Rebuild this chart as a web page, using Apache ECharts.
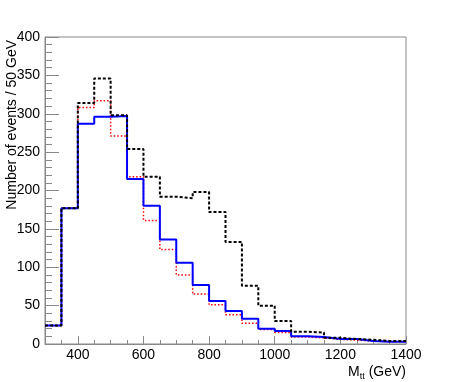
<!DOCTYPE html>
<html>
<head>
<meta charset="utf-8">
<script src="https://cdn.jsdelivr.net/npm/echarts@6/dist/echarts.min.js"></script>
<style>
html,body{margin:0;padding:0;background:#fff;}
#chart{width:452px;height:382px;}
</style>
</head>
<body>
<div id="chart"></div>
<script>
// Bin lower edges (GeV), 50 GeV bins
var binLow = [300,350,400,450,500,550,600,650,700,750,800,850,900,950,1000,1050,1100,1150,1200,1250,1300,1350];
var binHigh = 1400;
// Black dashed histogram
var blackDashed = [24,177,314,346,298,254,218,192,190,198,172,133,76,50,30,16,15,8,6.5,5.5,4,4];
// Red dotted histogram
var redDotted = [24,177,308,317,271,218,161,123,90,65,51,38,27,19,15,9,8,6,5,4,3,3];
// Blue solid histogram
var blueSolid = [24,177,287,296,297,215,180,136,106,77,56,43,33,20,17,10,9,6.5,6.5,4,3,3];
// Tick labels
var xTickLabels = [400,600,800,1000,1200,1400];
var yTickLabels = [0,50,100,150,200,250,300,350,400];

function histData(vals){
  var d = binLow.map(function(x,i){ return [x, vals[i]]; });
  d.push([binHigh, vals[vals.length-1]]);
  return d;
}

var axisColor = '#888';
var font = 'Liberation Sans, Arial, Helvetica, sans-serif';

var chart = echarts.init(document.getElementById('chart'), null, {renderer:'canvas'});
chart.setOption({
  animation: false,
  backgroundColor: '#fff',
  grid: {left:45, right:46, top:37, bottom:38, show:true, borderColor:axisColor, borderWidth:1, backgroundColor:'transparent'},
  xAxis: [{
    type:'value', min:300, max:1400,
    axisLine:{show:true, lineStyle:{color:axisColor, width:1}},
    axisTick:{show:true, inside:true, length:8, customValues:xTickLabels, lineStyle:{color:axisColor}},
    axisLabel:{show:true, customValues:xTickLabels, margin:4, color:'#000', fontSize:14, fontFamily:font,
      formatter:function(v){ return String(v); }},
    splitLine:{show:false}
  },{
    type:'value', min:300, max:1400, interval:50, position:'bottom',
    axisLine:{show:false},
    axisTick:{show:true, inside:true, length:4, lineStyle:{color:axisColor}},
    axisLabel:{show:false},
    splitLine:{show:false}
  }],
  yAxis: {
    type:'value', min:0, max:400, interval:50,
    axisLine:{show:true, lineStyle:{color:axisColor, width:1}},
    axisTick:{show:true, inside:true, length:14, lineStyle:{color:axisColor}},
    minorTick:{show:true, splitNumber:5, length:7, lineStyle:{color:axisColor}},
    axisLabel:{show:true, margin:5, color:'#000', fontSize:14, fontFamily:font,
      formatter:function(v){ return yTickLabels.indexOf(v) >= 0 ? String(v) : ''; }},
    splitLine:{show:false}
  },
  series: [
    {type:'line', name:'red', step:'end', showSymbol:false, symbol:'none', xAxisIndex:0,
     data:histData(redDotted), lineStyle:{color:'#ff0000', width:1.5, type:[1.5,2]}, z:2},
    {type:'line', name:'blue', step:'end', showSymbol:false, symbol:'none', xAxisIndex:0,
     data:histData(blueSolid), lineStyle:{color:'#0000ff', width:2, type:'solid'}, z:3},
    {type:'line', name:'black', step:'end', showSymbol:false, symbol:'none', xAxisIndex:0,
     data:histData(blackDashed), lineStyle:{color:'#000000', width:2, type:[3,2]}, z:4}
  ],
  graphic: [
    {type:'text', x:12.5, y:40, rotation:Math.PI/2,
     style:{text:'Number of events / 50 GeV', fill:'#000', font:'14px ' + font, align:'right', verticalAlign:'middle'}},
    {type:'text', x:406, y:372,
     style:{text:'{a|M}{s|tt}{a| (GeV)}', align:'right', verticalAlign:'middle', fill:'#000',
       rich:{
         a:{fontSize:14, fontFamily:font, lineHeight:18, fill:'#000', verticalAlign:'middle'},
         s:{fontSize:9, fontFamily:font, lineHeight:9, fill:'#000', verticalAlign:'bottom'}
       }}}
  ]
});
</script>
</body>
</html>
